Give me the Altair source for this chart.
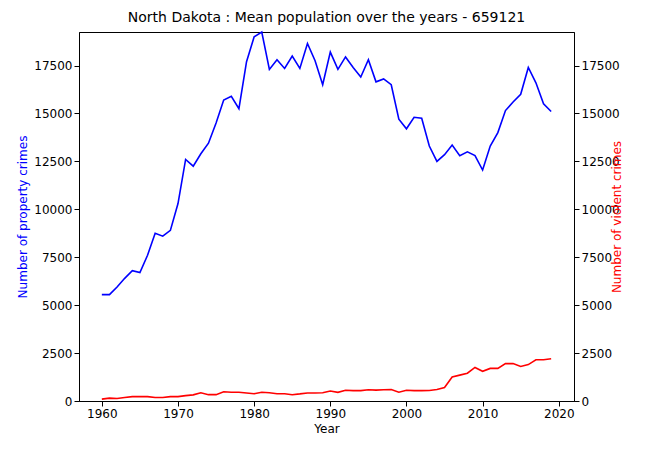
import pandas as pd
import altair as alt

years = list(range(1960, 2020))
property_crimes = [5550, 5550, 5950, 6400, 6800, 6700, 7600, 8750, 8600, 8900,
                   10300, 12600, 12250, 12900, 13450, 14500, 15700, 15900, 15250, 17700,
                   19000, 19250, 17300, 17800, 17350, 18000, 17350, 18650, 17750, 16500,
                   18200, 17300, 17950, 17400, 16900, 17800, 16650, 16800, 16500, 14700,
                   14200, 14800, 14750, 13300, 12500, 12850, 13350, 12800, 13000, 12800,
                   12050, 13300, 14000, 15150, 15600, 16000, 17400, 16600, 15500, 15100]
violent_crimes = [100, 150, 130, 180, 230, 230, 230, 180, 180, 230,
                  230, 280, 320, 430, 330, 330, 480, 460, 460, 420,
                  380, 460, 430, 380, 380, 330, 370, 420, 420, 430,
                  520, 450, 560, 540, 540, 590, 570, 590, 600, 460,
                  560, 540, 540, 550, 600, 700, 1250, 1350, 1450, 1750,
                  1550, 1700, 1700, 1950, 1950, 1800, 1900, 2150, 2150, 2200]

df = pd.DataFrame({"Year": years, "prop": property_crimes, "viol": violent_crimes})

ydom = [0, 19250]
ticks = list(range(0, 19000, 2500))
x = alt.X("Year:Q", scale=alt.Scale(domain=[1957, 2022], nice=False),
          axis=alt.Axis(values=list(range(1960, 2021, 10)), format="d", grid=False,
                        title="Year"))

base = alt.Chart(df)
prop = base.mark_line(color="blue", strokeWidth=1.6).encode(
    x=x,
    y=alt.Y("prop:Q", scale=alt.Scale(domain=ydom, nice=False),
            axis=alt.Axis(title="Number of property crimes", titleColor="blue",
                          grid=False, values=ticks, format="d")),
)
viol = base.mark_line(color="red", strokeWidth=1.6).encode(
    x=x,
    y=alt.Y("viol:Q", scale=alt.Scale(domain=ydom, nice=False),
            axis=alt.Axis(title="Number of violent crimes", titleColor="red", orient="right",
                          grid=False, values=ticks, format="d", titleAngle=270)),
)

chart = alt.layer(prop, viol).resolve_scale(y="independent").properties(
    width=495, height=369,
    padding={"left": 8, "top": 2, "right": 5, "bottom": 5},
    title="North Dakota : Mean population over the years - 659121",
).configure_axis(
    labelFont="DejaVu Sans", titleFont="DejaVu Sans", labelFontSize=12, titleFontSize=12,
    titleFontWeight="normal", labelColor="black", domainColor="black", tickColor="black",
).configure_title(
    font="DejaVu Sans", fontSize=14, fontWeight="normal",
).configure_view(stroke="black")

chart.save("out.html", embed_options={"renderer": "svg", "actions": False})
